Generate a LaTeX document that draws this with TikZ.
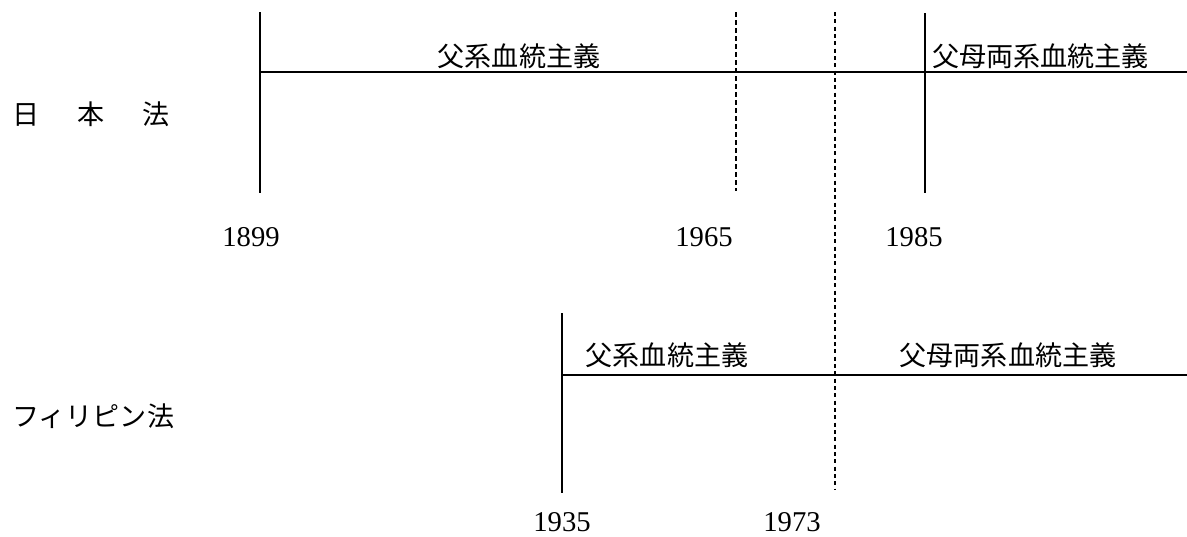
\documentclass[tikz,border=0pt]{standalone}
\usepackage{fontspec}
\newfontfamily\cjk{Noto Sans CJK JP}
\setmainfont{Liberation Serif}
\begin{document}
\begin{tikzpicture}[x=0.75pt,y=-0.75pt,
  solidln/.style={line width=1pt},
  dashthick/.style={line width=1.6pt,dash pattern=on 4pt off 2pt},
  dashthin/.style={line width=0.9pt,dash pattern=on 3pt off 2.5pt},
  lab/.style={font=\cjk\fontsize{20.3}{24}\selectfont,inner sep=0pt},
  yr/.style={font=\fontsize{21.5}{24}\selectfont,inner sep=0pt}]
\useasboundingbox (0,0) rectangle (1187,536);
% Japan
\coordinate (jt) at (260,12); \coordinate (jb) at (260,193);
\coordinate (jl) at (260,72); \coordinate (jr) at (1187,72);
\draw[solidln] (jt) -- (jb);
\draw[solidln] (jl) -- (jr);
\coordinate (d1t) at (736,12); \coordinate (d1b) at (736,191);
\draw[dashthick] (d1t) -- (d1b);
\coordinate (d2t) at (835,12); \coordinate (d2b) at (835,490);
\draw[dashthin] (d2t) -- (d2b);
\coordinate (k1t) at (925,13); \coordinate (k1b) at (925,193);
\draw[solidln] (k1t) -- (k1b);
\node[lab] (jp1) at (519,56) {父系血統主義};
\node[lab,anchor=west] (jp2) at (932,56) {父母両系血統主義};
\node[lab,anchor=west] (jpn) at (12,114.5) {日\hspace{1.4em}本\hspace{1.4em}法};
\node[yr] (y1899) at (251,237.5) {1899};
\node[yr] (y1965) at (704,237.5) {1965};
\node[yr] (y1985) at (914,237.5) {1985};
% Philippines
\coordinate (pt) at (562,313); \coordinate (pb) at (562,493);
\coordinate (pl) at (562,375); \coordinate (pr) at (1187,375);
\draw[solidln] (pt) -- (pb);
\draw[solidln] (pl) -- (pr);
\node[lab] (ph1) at (667,355) {父系血統主義};
\node[lab] (ph2) at (1008,355) {父母両系血統主義};
\node[lab,anchor=west] (phl) at (12,416) {フィリピン法};
\node[yr] (y1935) at (562,522) {1935};
\node[yr] (y1973) at (792,522) {1973};
\end{tikzpicture}
\end{document}
